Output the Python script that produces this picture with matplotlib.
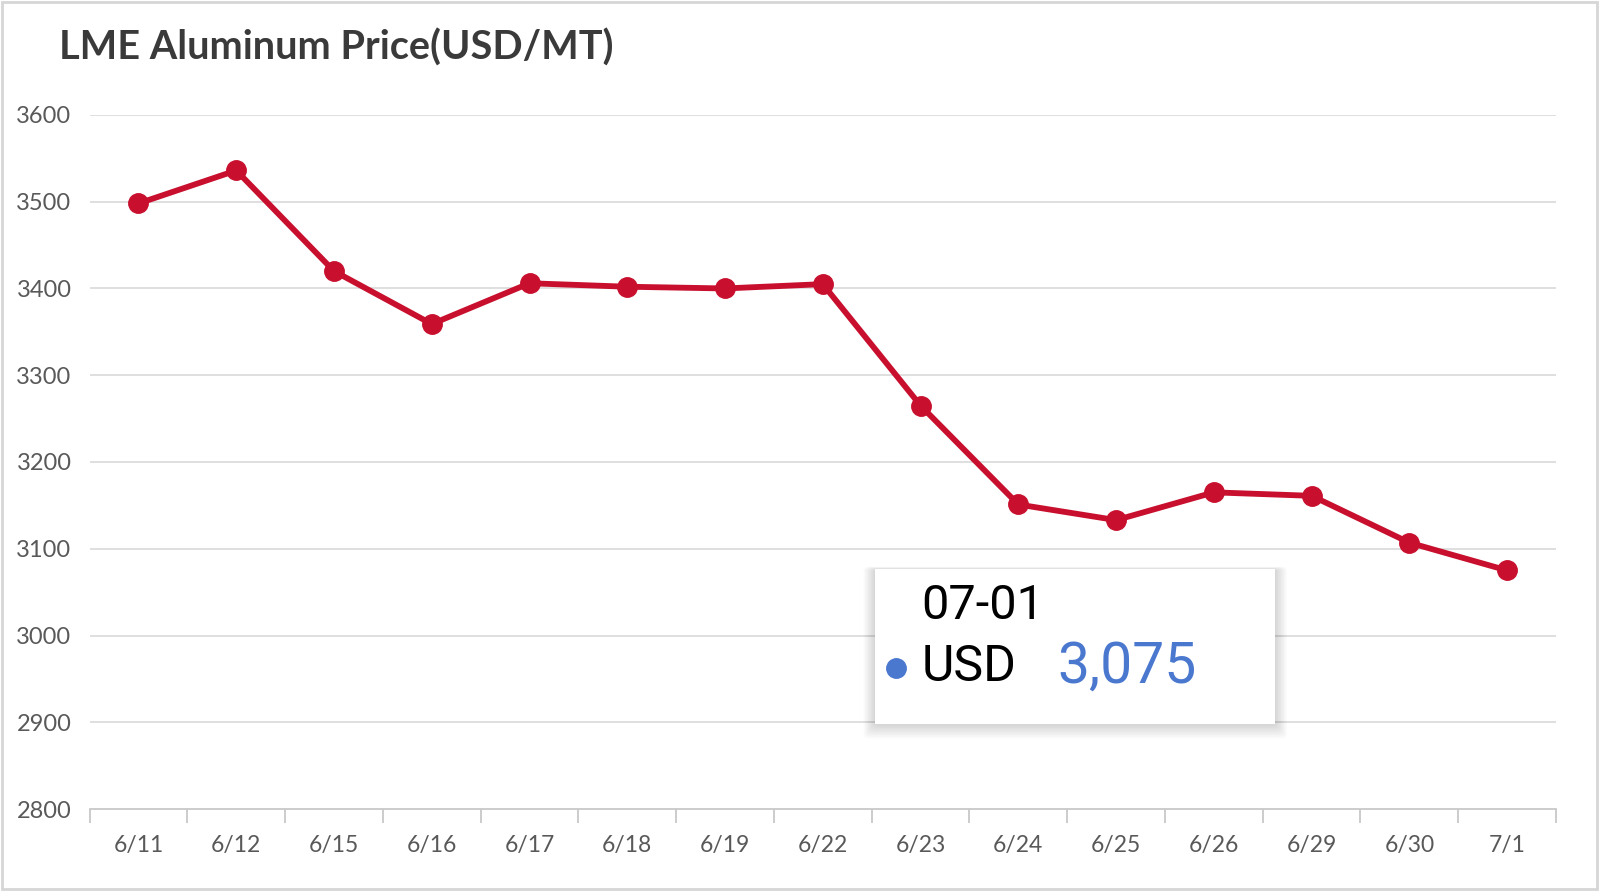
import matplotlib.pyplot as plt
from matplotlib.patches import FancyBboxPatch, Rectangle

dates = ["6/11", "6/12", "6/15", "6/16", "6/17", "6/18", "6/19", "6/22",
         "6/23", "6/24", "6/25", "6/26", "6/29", "6/30", "7/1"]
prices = [3498, 3536, 3420, 3359, 3406, 3402, 3400, 3405,
          3265, 3151, 3133, 3165, 3161, 3107, 3075]
yticks = [2800, 2900, 3000, 3100, 3200, 3300, 3400, 3500, 3600]
tip_date = "07-01"
tip_series = "USD"

fig = plt.figure(figsize=(16, 8.91), dpi=100)
ax = fig.add_axes([0.056, 0.092, 0.9165, 0.779])

x = list(range(len(dates)))
ax.plot(x, prices, color="#c8102e", lw=4.2, marker="o", ms=14, zorder=3)

ax.set_xlim(-0.5, len(dates) - 0.5)
ax.set_ylim(2800, 3600)
ax.set_yticks(yticks)
ax.set_yticklabels([str(v) for v in yticks], fontsize=17, color="#595959", family="Lato")
ax.set_xticks(x)
ax.set_xticklabels(dates, fontsize=16.5, color="#595959", family="Lato")
ax.set_xticks([i - 0.5 for i in range(len(dates) + 1)], minor=True)
ax.tick_params(axis="x", which="major", length=0, pad=19)
ax.tick_params(axis="x", which="minor", length=10, width=1.3, color="#c8c8c8")
ax.tick_params(axis="y", length=0, pad=13)
for yv in yticks[1:]:
    ax.axhline(yv, color="#dcdcdc", lw=1.3, zorder=1)
for s in ["top", "right", "left"]:
    ax.spines[s].set_visible(False)
ax.spines["bottom"].set_color("#c8c8c8")
ax.spines["bottom"].set_linewidth(1.3)

fig.text(0.037, 0.947, "LME Aluminum Price(USD/MT)", fontsize=28.5, fontweight="bold",
         color="#3a3a3a", family="Lato", va="center")

# outer frame
fig.patches.append(Rectangle((0.001, 0.002), 0.997, 0.996, transform=fig.transFigure,
                             fill=False, ec="#d6d6d6", lw=2))

# tooltip with soft shadow
bx, by, bw, bh = 0.547, 0.187, 0.25, 0.174
for k in range(8):
    off = 0.0009 * (k + 1)
    fig.patches.append(FancyBboxPatch((bx - off, by - off * 2.2), bw + 2 * off, bh + off * 2.6,
                                      boxstyle="round,pad=0,rounding_size=0.004",
                                      transform=fig.transFigure,
                                      fc="black", ec="none", alpha=0.018, zorder=4))
fig.patches.append(FancyBboxPatch((bx, by), bw, bh, boxstyle="square,pad=0",
                                  transform=fig.transFigure, fc="white", ec="none", zorder=5))
fig.text(0.576, 0.320, tip_date, fontsize=35, color="black", family="Roboto", va="center", zorder=6)
fig.text(0.576, 0.251, tip_series, fontsize=36, color="black", family="Roboto", va="center", zorder=6)
fig.text(0.661, 0.251, f"{prices[-1]:,}", fontsize=41, color="#4a78cf", family="Roboto",
         va="center", zorder=6)
fig.add_artist(plt.Line2D([0.560], [0.250], marker="o", ms=14, color="#4a78cf",
                          transform=fig.transFigure, zorder=6))

fig.savefig("out.png", dpi=100)
